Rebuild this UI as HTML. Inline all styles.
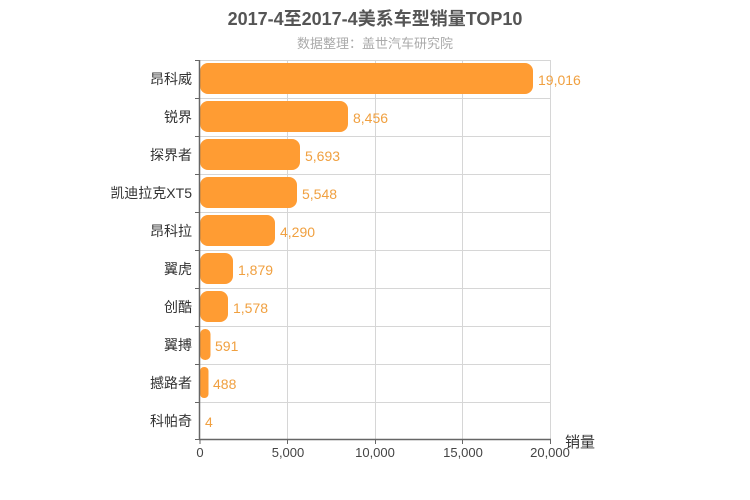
<!DOCTYPE html>
<html><head><meta charset="utf-8"><style>
body{margin:0;background:#fff;}
svg{display:block;font-family:"Liberation Sans","Noto Sans CJK SC",sans-serif;}
</style></head><body>
<svg width="750" height="500" viewBox="0 0 750 500" xmlns="http://www.w3.org/2000/svg">
<text x="375" y="25" text-anchor="middle" font-size="18" font-weight="bold" fill="#555">2017-4至2017-4美系车型销量TOP10</text>
<text x="375" y="48" text-anchor="middle" font-size="13" fill="#aaa">数据整理：盖世汽车研究院</text>
<g stroke="#d6d6d6" stroke-width="1">
<line x1="287.5" y1="60" x2="287.5" y2="440"/>
<line x1="375.5" y1="60" x2="375.5" y2="440"/>
<line x1="462.5" y1="60" x2="462.5" y2="440"/>
<line x1="550.5" y1="60" x2="550.5" y2="440"/>
<line x1="200" y1="60.5" x2="550" y2="60.5"/>
<line x1="200" y1="98.5" x2="550" y2="98.5"/>
<line x1="200" y1="136.5" x2="550" y2="136.5"/>
<line x1="200" y1="174.5" x2="550" y2="174.5"/>
<line x1="200" y1="212.5" x2="550" y2="212.5"/>
<line x1="200" y1="250.5" x2="550" y2="250.5"/>
<line x1="200" y1="288.5" x2="550" y2="288.5"/>
<line x1="200" y1="326.5" x2="550" y2="326.5"/>
<line x1="200" y1="364.5" x2="550" y2="364.5"/>
<line x1="200" y1="402.5" x2="550" y2="402.5"/>
</g>
<g fill="#ff9c33">
<rect x="200" y="63" width="333" height="31" rx="8"/>
<rect x="200" y="101" width="148" height="31" rx="8"/>
<rect x="200" y="139" width="100" height="31" rx="8"/>
<rect x="200" y="177" width="97" height="31" rx="8"/>
<rect x="200" y="215" width="75" height="31" rx="8"/>
<rect x="200" y="253" width="33" height="31" rx="8"/>
<rect x="200" y="291" width="28" height="31" rx="8"/>
<rect x="200" y="329" width="10.5" height="31" rx="5"/>
<rect x="200" y="367" width="8.5" height="31" rx="4"/>
</g>
<g font-size="14" fill="#f0a040">
<text x="538" y="85">19,016</text>
<text x="353" y="123">8,456</text>
<text x="305" y="161">5,693</text>
<text x="302" y="199">5,548</text>
<text x="280" y="237">4,290</text>
<text x="238" y="275">1,879</text>
<text x="233" y="313">1,578</text>
<text x="215" y="351">591</text>
<text x="213" y="389">488</text>
<text x="205" y="427">4</text>
</g>
<g font-size="14" fill="#333" text-anchor="end">
<text x="192" y="84">昂科威</text>
<text x="192" y="122">锐界</text>
<text x="192" y="160">探界者</text>
<text x="192" y="198">凯迪拉克XT5</text>
<text x="192" y="236">昂科拉</text>
<text x="192" y="274">翼虎</text>
<text x="192" y="312">创酷</text>
<text x="192" y="350">翼搏</text>
<text x="192" y="388">撼路者</text>
<text x="192" y="426">科帕奇</text>
</g>
<g stroke="#666" stroke-width="1.5">
<line x1="199.5" y1="60" x2="199.5" y2="440"/>
<line x1="199" y1="439.5" x2="551" y2="439.5"/>
</g>
<g stroke="#666" stroke-width="1">
<line x1="195" y1="60.5" x2="200" y2="60.5"/><line x1="195" y1="98.5" x2="200" y2="98.5"/>
<line x1="195" y1="136.5" x2="200" y2="136.5"/><line x1="195" y1="174.5" x2="200" y2="174.5"/>
<line x1="195" y1="212.5" x2="200" y2="212.5"/><line x1="195" y1="250.5" x2="200" y2="250.5"/>
<line x1="195" y1="288.5" x2="200" y2="288.5"/><line x1="195" y1="326.5" x2="200" y2="326.5"/>
<line x1="195" y1="364.5" x2="200" y2="364.5"/><line x1="195" y1="402.5" x2="200" y2="402.5"/>
<line x1="195" y1="439.5" x2="200" y2="439.5"/>
<line x1="200" y1="440" x2="200" y2="444"/><line x1="287.5" y1="440" x2="287.5" y2="444"/>
<line x1="375.5" y1="440" x2="375.5" y2="444"/><line x1="462.5" y1="440" x2="462.5" y2="444"/>
<line x1="550.5" y1="440" x2="550.5" y2="444"/>
</g>
<g font-size="13" fill="#444" text-anchor="middle">
<text x="200" y="457">0</text>
<text x="288" y="457">5,000</text>
<text x="375" y="457">10,000</text>
<text x="463" y="457">15,000</text>
<text x="550" y="457">20,000</text>
</g>
<text x="565" y="447" font-size="15" fill="#333">销量</text>
</svg>
</body></html>
